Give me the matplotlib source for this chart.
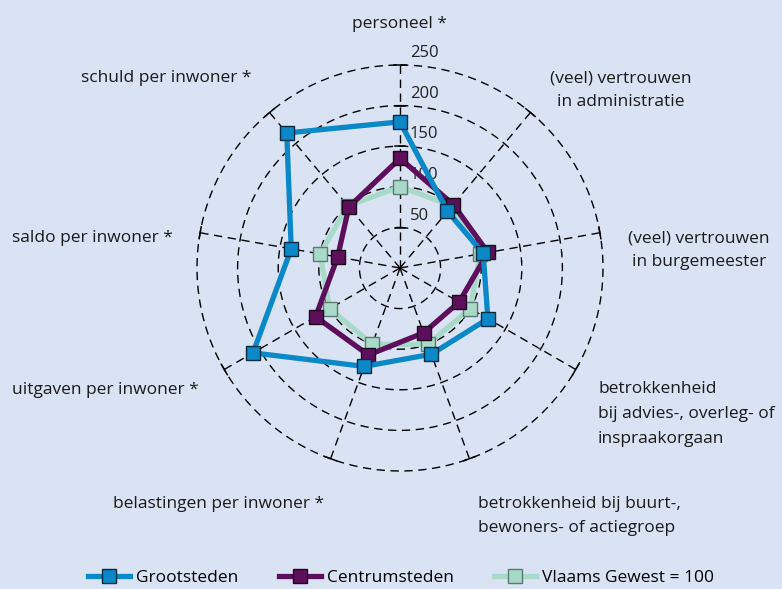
import numpy as np
import matplotlib
matplotlib.use("Agg")
import matplotlib.pyplot as plt
from matplotlib.lines import Line2D

# ---- data ----
categories = [
    "personeel *",
    "(veel) vertrouwen\nin administratie",
    "(veel) vertrouwen\nin burgemeester",
    "betrokkenheid\nbij advies-, overleg- of\ninspraakorgaan",
    "betrokkenheid bij buurt-,\nbewoners- of actiegroep",
    "belastingen per inwoner *",
    "uitgaven per inwoner *",
    "saldo per inwoner *",
    "schuld per inwoner *",
]
grootsteden = [180, 91, 104, 125, 113, 129, 209, 136, 217]
centrumsteden = [135, 102, 110, 84, 85, 114, 120, 78, 98]
vlaams = [100, 100, 100, 100, 100, 100, 100, 100, 100]
ring_values = [50, 100, 150, 200, 250]

BG = "#dae3f3"
BLUE = "#0a88c8"
PURPLE = "#5e0f5c"
GREEN = "#a9d9c8"

plt.rcParams["font.family"] = ["Open Sans", "DejaVu Sans"]
plt.rcParams["font.size"] = 12

W, H = 782, 589
fig = plt.figure(figsize=(W / 100, H / 100), dpi=100, facecolor=BG)

cx, cy, R = 400, 268, 203
ax = fig.add_axes([(cx - R) / W, (H - cy - R) / H, 2 * R / W, 2 * R / H],
                  projection="polar")
ax.set_theta_zero_location("N")
ax.set_theta_direction(-1)
ax.set_ylim(0, 250)
ax.axis("off")

n = len(categories)
angles = np.arange(n) * 2 * np.pi / n

# grid rings
t = np.linspace(0, 2 * np.pi, 400)
for r in ring_values:
    ax.plot(t, np.full_like(t, r), color="black", lw=1.0, ls=(0, (6, 4)),
            zorder=1, clip_on=False)

# spokes + end ticks
dt = 6 / R
for a in angles:
    ax.plot([a, a], [0, 250], color="black", lw=1.0, ls=(0, (6, 4)), zorder=1,
            clip_on=False)
    ax.plot([a - dt, a + dt], [250, 250], color="black", lw=1.1, zorder=1,
            clip_on=False)
for r in ring_values[:-1]:
    d = 5 / (r * R / 250)
    ax.plot([-d, d], [r, r], color="black", lw=1.1, zorder=1)

# ring labels along top spoke
for r in ring_values:
    ax.annotate(str(r), xy=(0, r), xytext=(7, 8.5), textcoords="offset points",
                ha="left", va="center", fontsize=12, color="#222222")


def closed(v):
    return np.append(angles, angles[0]), np.append(v, v[0])


series = [
    (vlaams, GREEN, "#5d7a70", "Vlaams Gewest = 100", 2),
    (centrumsteden, PURPLE, "#1a0a1a", "Centrumsteden", 3),
    (grootsteden, BLUE, "#0a2a40", "Grootsteden", 4),
]
handles = {}
for vals, col, edge, lab, z in series:
    th, rv = closed(vals)
    ax.plot(th, rv, color=col, lw=3.8, zorder=z, clip_on=False, solid_joinstyle="miter")
    ax.plot(angles, vals, ls="none", marker="s", ms=9.5, mfc=col, mec=edge,
            mew=1.0, zorder=z + 0.5, clip_on=False)
    handles[lab] = Line2D([], [], color=col, lw=3.8, marker="s", ms=10.5,
                          mfc=col, mec=edge, mew=1.0)

# category labels (pixel positions from the top-left)
label_pos = [
    (400, 24, "center", 1.6),
    (621, 90, "center", 1.6),
    (699, 250, "center", 1.6),
    (598, 414, "left", 1.72),
    (478, 516, "left", 1.6),
    (219, 504, "center", 1.6),
    (105, 390, "center", 1.6),
    (92, 238, "center", 1.6),
    (166, 78, "center", 1.6),
]
for txt, (px, py, ha, ls) in zip(categories, label_pos):
    fig.text(px / W, 1 - py / H, txt, ha=ha, va="center", fontsize=12.5,
             color="#1a1a1a", linespacing=ls, multialignment=ha)

order = ["Grootsteden", "Centrumsteden", "Vlaams Gewest = 100"]
fig.legend([handles[k] for k in order], order, loc="center",
           bbox_to_anchor=(0.513, 1 - 578 / H), ncol=3, frameon=False,
           handlelength=2.4, handletextpad=0.35, columnspacing=2.35,
           fontsize=12.5, borderpad=0, borderaxespad=0)

fig.savefig("out.png", dpi=100, facecolor=BG)
